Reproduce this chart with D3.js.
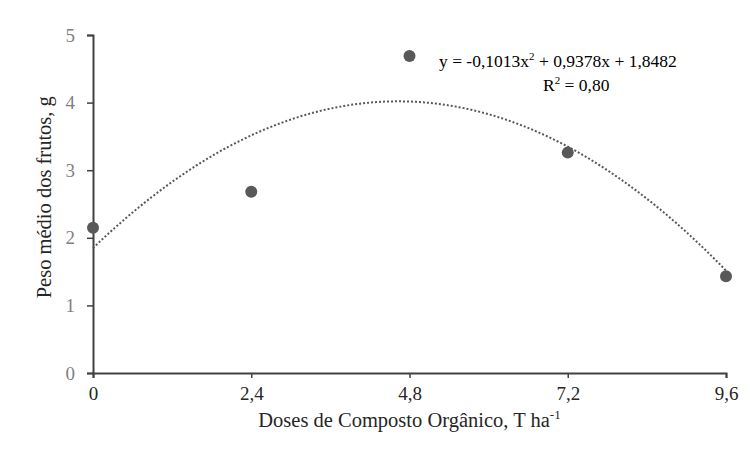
<!DOCTYPE html>
<html lang="pt">
<head>
<meta charset="utf-8" />
<title>Peso médio dos frutos</title>
<script src="https://d3js.org/d3.v7.min.js"></script>
<style>
  body { margin: 0; background: #fff; }
  text { font-family: "Liberation Serif", "Times New Roman", serif; }
</style>
</head>
<body>
<div id="chart"></div>
<script>
// data
var doses = [0, 2.4, 4.8, 7.2, 9.6];
var peso = [2.15, 2.68, 4.69, 3.26, 1.43];
var xTicks = [0, 2.4, 4.8, 7.2, 9.6];
var yTicks = [0, 1, 2, 3, 4, 5];
// trendline coefficients as printed on the chart: a*x^2 + b*x + c
var trendCoefs = [-0.1013, 0.9378, 1.8482];

var W = 750, H = 457;
var margin = { top: 35, right: 24, bottom: 84, left: 93 };

var svg = d3.select("#chart").append("svg")
    .attr("width", W)
    .attr("height", H);

var x = d3.scaleLinear().domain([0, 9.6]).range([margin.left, W - margin.right]);
var y = d3.scaleLinear().domain([0, 5]).range([H - margin.bottom, margin.top]);

var fmt = function (d) { return String(d).replace(".", ","); };

// x axis
var gx = svg.append("g")
    .attr("transform", "translate(0," + y(0) + ")")
    .call(d3.axisBottom(x).tickValues(xTicks).tickFormat(fmt).tickSize(5).tickPadding(9));
gx.select(".domain").attr("stroke", "#404040").attr("stroke-width", 2);
gx.selectAll(".tick line").attr("stroke", "#404040").attr("stroke-width", 1.5);
gx.selectAll(".tick text").attr("fill", "#262626").style("font-size", "19px")
    .style("font-family", "Liberation Serif");

// y axis
var gy = svg.append("g")
    .attr("transform", "translate(" + x(0) + ",0)")
    .call(d3.axisLeft(y).tickValues(yTicks).tickFormat(d3.format("d")).tickSize(6).tickPadding(12));
gy.select(".domain").attr("stroke", "#404040").attr("stroke-width", 2);
gy.selectAll(".tick line").attr("stroke", "#404040").attr("stroke-width", 1.5);
gy.selectAll(".tick text").attr("fill", "#7f7f7f").style("font-size", "19px")
    .style("font-family", "Liberation Serif");

// trendline (dotted)
var trendX = d3.range(0, 9.6001, 0.05);
var trend = d3.line()
    .x(function (d) { return x(d); })
    .y(function (d) { return y(trendCoefs[0] * d * d + trendCoefs[1] * d + trendCoefs[2]); });
svg.append("path")
    .datum(trendX)
    .attr("d", trend)
    .attr("fill", "none")
    .attr("stroke", "#595959")
    .attr("stroke-width", 2)
    .attr("stroke-dasharray", "2,2");

// points
svg.selectAll("circle.pt")
    .data(doses)
    .enter()
    .append("circle")
    .attr("class", "pt")
    .attr("cx", function (d) { return x(d); })
    .attr("cy", function (d, i) { return y(peso[i]); })
    .attr("r", 6)
    .attr("fill", "#595959");

// equation
var eq = svg.append("text")
    .attr("x", 439)
    .attr("y", 67)
    .attr("fill", "#000")
    .style("font-size", "17.5px");
eq.append("tspan").text("y = -0,1013x");
eq.append("tspan").attr("dy", -7).style("font-size", "11px").text("2");
eq.append("tspan").attr("dy", 7).text(" + 0,9378x + 1,8482");

var r2 = svg.append("text")
    .attr("x", 543)
    .attr("y", 91)
    .attr("fill", "#000")
    .style("font-size", "17.5px");
r2.append("tspan").text("R");
r2.append("tspan").attr("dy", -7).style("font-size", "11px").text("2");
r2.append("tspan").attr("dy", 7).text(" = 0,80");

// axis titles
var xt = svg.append("text")
    .attr("x", (x(0) + x(9.6)) / 2)
    .attr("y", 427)
    .attr("text-anchor", "middle")
    .attr("fill", "#262626")
    .style("font-size", "20.5px");
xt.append("tspan").text("Doses de Composto Orgânico, T ha");
xt.append("tspan").attr("dy", -8).style("font-size", "13px").text("-1");

svg.append("text")
    .attr("transform", "translate(51," + y(2.6) + ")rotate(-90)")
    .attr("text-anchor", "middle")
    .attr("fill", "#262626")
    .style("font-size", "20.5px")
    .text("Peso médio dos frutos, g");
</script>
</body>
</html>
